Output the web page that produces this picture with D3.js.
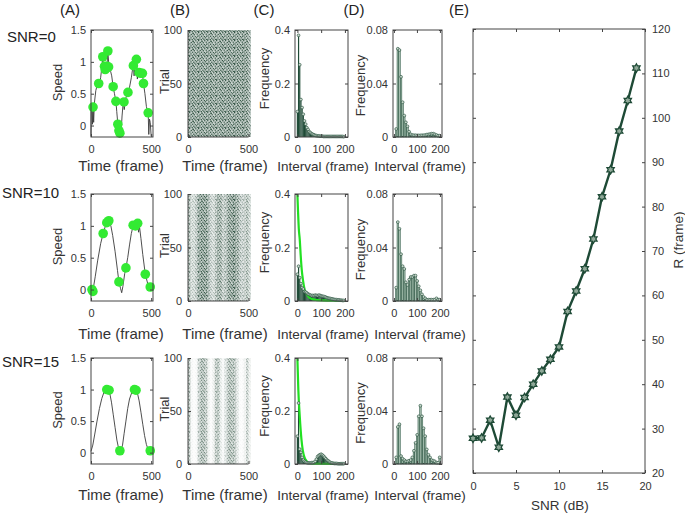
<!DOCTYPE html>
<html>
<head>
<meta charset="utf-8">
<script src="https://cdn.jsdelivr.net/npm/d3@7"></script>
<style>
  body { margin: 0; background: #fff; }
  svg { display: block; font-family: Arial, "Liberation Sans", sans-serif; }
</style>
</head>
<body>
<svg id="chart" width="685" height="513"></svg>
<script>
const DARK = '#1e4a36';
const RASTER_DOT = '#173d2b';
const LIGHT_BAR = '#a3bcad';
const PEAK_GREEN = '#33ea33';
const FIT_GREEN = '#22e022';
const AXIS = '#444';
const TEXT = '#333';

// ---- data ----
const rowLabels = ['SNR=0', 'SNR=10', 'SNR=15'];

// (A) speed traces [frame, speed] and detected peaks
const speed0 = [[0,-0.17],[2,0.3],[8,0.3],[12,0.02],[17,0.29],[22,0.05],[28,0.35],[40,0.55],[55,0.66],[70,0.64],[80,0.75],[92,0.95],[98,1.08],[104,0.9],[112,0.93],[118,0.82],[125,0.9],[130,0.85],[140,1.17],[148,0.95],[155,0.92],[163,0.85],[172,0.78],[184,0.61],[195,0.5],[207,0.38],[214,0.22],[223,0.02],[232,-0.05],[240,-0.12],[250,-0.1],[258,0.15],[268,0.37],[276,0.25],[288,0.42],[300,0.5],[307,0.52],[320,0.6],[335,0.75],[348,0.92],[352,0.94],[358,0.78],[366,0.95],[377,1.04],[385,0.73],[392,0.85],[402,0.83],[413,0.8],[420,0.82],[427,0.82],[436,0.66],[448,0.5],[460,0.3],[470,0.22],[475,0.2],[480,-0.14],[486,0.1],[492,0.05],[500,-0.17]];
const peaks0 = [[17,0.29],[64,0.66],[98,1.08],[112,0.93],[118,0.88],[128,0.9],[134,0.93],[140,1.17],[146,0.92],[184,0.61],[207,0.38],[223,0.02],[232,-0.08],[240,-0.12],[274,0.37],[307,0.52],[352,0.94],[377,1.04],[399,0.83],[414,0.82],[427,0.82],[436,0.66],[475,0.2]];
const speed10 = [[0,0],[10,-0.02],[20,0.03],[35,0.2],[55,0.45],[80,0.72],[101,0.88],[120,1.0],[135,1.05],[150,1.06],[165,1.0],[180,0.85],[200,0.6],[220,0.3],[232,0.12],[245,0.02],[255,-0.05],[265,0.05],[280,0.25],[290,0.34],[305,0.5],[320,0.7],[335,0.88],[350,1.0],[365,1.0],[378,1.02],[388,1.04],[395,0.9],[402,1.0],[415,0.8],[430,0.55],[451,0.24],[470,0.1],[492,0.04],[500,0.05]];
const peaks10 = [[8,0],[16,-0.03],[101,0.88],[131,1.05],[148,1.08],[232,0.12],[290,0.34],[350,1.01],[369,1.0],[388,1.04],[451,0.24],[492,0.04]];
const speed15 = [[0,0.02],[15,0.12],[30,0.28],[50,0.5],[70,0.7],[90,0.86],[110,0.97],[125,1.0],[140,1.0],[155,0.95],[170,0.8],[185,0.6],[200,0.4],[215,0.2],[228,0.08],[240,0.03],[250,0.04],[262,0.12],[275,0.3],[290,0.5],[305,0.7],[320,0.85],[340,0.96],[355,1.0],[370,1.0],[385,0.95],[400,0.82],[415,0.64],[430,0.45],[445,0.27],[460,0.13],[475,0.05],[492,0.03],[500,0.05]];
const peaks15 = [[131,1.0],[150,0.99],[240,0.03],[361,1.0],[374,0.99],[492,0.03]];

// (B) spike density of the raster per 20-frame bin (0..1)
const rasterBins = [0,20,40,60,80,100,120,140,160,180,200,220,240,260,280,300,320,340,360,380,400,420,440,460,480,500];
const raster0 = [0.8,0.85,0.85,0.8,0.85,0.85,0.85,0.8,0.85,0.85,0.8,0.8,0.8,0.85,0.85,0.8,0.85,0.85,0.8,0.85,0.85,0.8,0.85,0.85,0.8,0.6];
const raster10 = [0.55,0.3,0.3,0.45,0.75,0.85,0.85,0.8,0.6,0.35,0.3,0.45,0.7,0.65,0.4,0.45,0.7,0.8,0.85,0.8,0.65,0.45,0.35,0.4,0.5,0.3];
const raster15 = [0.45,0.05,0.02,0.05,0.35,0.55,0.55,0.4,0.1,0.03,0.1,0.4,0.5,0.15,0.05,0.2,0.45,0.55,0.5,0.4,0.15,0.03,0.03,0.1,0.35,0.1];

// (C) interval histograms, 5-frame bins
const histBinsC = [0,5,10,15,20,25,30,35,40,45,50,55,60,65,70,75,80,85,90,95,100,105,110,115,120,125,130,135,140,145,150,155,160,165,170,175,180,185,190,195];
const histC0 = [0.095,0.38,0.27,0.14,0.11,0.085,0.06,0.048,0.035,0.028,0.02,0.016,0.012,0.01,0.008,0.006,0.005,0.004,0.004,0.003,0.003,0.003,0.002,0.002,0.002,0.002,0.002,0.002,0.002,0.002,0.002,0.002,0.002,0.002,0.002,0.002,0.002,0.002,0.002,0.001];
const histC10 = [0.1,0.13,0.087,0.065,0.05,0.045,0.035,0.033,0.03,0.026,0.024,0.022,0.02,0.021,0.02,0.022,0.021,0.02,0.022,0.021,0.019,0.018,0.017,0.016,0.014,0.012,0.011,0.01,0.009,0.008,0.007,0.006,0.005,0.005,0.004,0.004,0.003,0.003,0.002,0.002];
const histC15 = [0.105,0.23,0.056,0.044,0.025,0.015,0.01,0.007,0.005,0.004,0.004,0.004,0.005,0.005,0.006,0.01,0.018,0.028,0.032,0.035,0.037,0.034,0.03,0.025,0.02,0.015,0.012,0.008,0.005,0.004,0.003,0.002,0.002,0.002,0.001,0.001,0.001,0.001,0.001,0.001];
// exponential fits drawn in light green
const fitC10 = [[0,0.4],[3,0.33],[6,0.27],[10,0.23],[14,0.17],[18,0.12],[24,0.075],[30,0.045],[40,0.025],[50,0.013],[70,0.005],[100,0.002],[150,0.001],[200,0.001]];
const fitC15 = [[0,0.4],[4,0.28],[10,0.18],[17,0.094],[23,0.05],[30,0.025],[40,0.01],[50,0.004],[70,0.001],[200,0]];

// (D) interval histograms, 7-frame bins
const histBinsD = [10,17,24,31,38,45,52,59,66,73,80,87,94,101,108,115,122,129,136,143,150,157,164,171,178,185,192,199];
const histD0 = [0.006,0.066,0.065,0.045,0.026,0.016,0.011,0.008,0.004,0.002,0.0015,0.0013,0.0013,0.0012,0.0012,0.0012,0.0013,0.0013,0.0015,0.0018,0.002,0.0022,0.0025,0.0025,0.002,0.0015,0.001,0.001];
const histD10 = [0.01,0.059,0.054,0.035,0.026,0.024,0.014,0.012,0.016,0.018,0.018,0.019,0.019,0.015,0.011,0.008,0.005,0.003,0.002,0.001,0.001,0.001,0.001,0.001,0.001,0.002,0.001,0.001];
const histD15 = [0.005,0.028,0.03,0.006,0.004,0.003,0.002,0.002,0.0025,0.003,0.005,0.01,0.016,0.022,0.036,0.044,0.036,0.027,0.021,0.011,0.007,0.005,0.003,0.0025,0.002,0.001,0.001,0.005];

// (E) R versus SNR
const snrDb = [0,1,2,3,4,5,6,7,8,9,10,11,12,13,14,15,16,17,18,19];
const rFrame = [27.8,27.9,31.9,25.8,37.1,33,37,40,43,45.6,48.4,56.4,61,66,72.7,82.2,88.3,97,103.9,111.2];

// ---- layout ----
const rowTop = [30, 194, 358];
const rowBottom = [137, 301, 464];
const xlabelY = [171, 339, 500];
const rowLabelY = [42, 198, 367];

const svg = d3.select('#chart');

// irregular dotted texture for the raster panels
const pat = svg.append('defs').append('pattern')
  .attr('id', 'spikes')
  .attr('width', 9).attr('height', 8)
  .attr('patternUnits', 'userSpaceOnUse');
[[0,0],[3.2,0.4],[6.1,0.1],[1.6,1.9],[4.7,2.2],[7.6,1.6],[0.3,3.4],[2.9,3.7],[5.8,4.0],[8.0,3.6],
 [1.3,5.3],[4.1,5.6],[6.9,5.2],[0.1,6.8],[2.6,7.0],[5.3,6.7],[7.8,6.9],[3.6,1.0]].forEach(([px, py]) => {
  pat.append('rect').attr('x', px).attr('y', py).attr('width', 1.3).attr('height', 1.2).attr('fill', RASTER_DOT);
});

function styleAxis(sel, size) {
  sel.select('.domain').remove();
  sel.selectAll('line').attr('stroke', AXIS);
  sel.selectAll('text').attr('fill', TEXT).style('font-size', size + 'px');
}

// MATLAB-like box with inward ticks
function axesBox(g, x, y, xTicks, yTicks, yFmt, opts = {}) {
  const [x0, x1] = x.range();
  const [yb, yt] = y.range();
  const box = opts.box !== false;
  const bottom = g.append('g').attr('transform', `translate(0,${yb})`)
    .call(d3.axisBottom(x).tickValues(xTicks).tickSizeInner(-3).tickSizeOuter(0).tickPadding(opts.xPad || 8));
  styleAxis(bottom, opts.font || 11);
  const yAxis = opts.right
    ? d3.axisRight(y).tickValues(yTicks).tickFormat(yFmt).tickSizeInner(-3).tickSizeOuter(0).tickPadding(7)
    : d3.axisLeft(y).tickValues(yTicks).tickFormat(yFmt).tickSizeInner(-3).tickSizeOuter(0).tickPadding(opts.yPad || 5);
  const left = g.append('g').attr('transform', `translate(${opts.right ? x1 : x0},0)`).call(yAxis);
  styleAxis(left, opts.font || 11);
  if (box) {
    const top = g.append('g').attr('transform', `translate(0,${yt})`)
      .call(d3.axisTop(x).tickValues(xTicks).tickSizeInner(-3).tickSizeOuter(0).tickFormat(''));
    styleAxis(top, 11);
    const other = opts.right ? d3.axisLeft(y) : d3.axisRight(y);
    const side = g.append('g').attr('transform', `translate(${opts.right ? x0 : x1},0)`)
      .call(other.tickValues(yTicks).tickSizeInner(-3).tickSizeOuter(0).tickFormat(''));
    styleAxis(side, 11);
    g.append('rect')
      .attr('x', x0).attr('y', yt).attr('width', x1 - x0).attr('height', yb - yt)
      .attr('fill', 'none').attr('stroke', AXIS).attr('stroke-width', 1);
  } else {
    g.append('path')
      .attr('d', `M${x0},${yt}V${yb}H${x1}`)
      .attr('fill', 'none').attr('stroke', AXIS).attr('stroke-width', 1);
  }
}

function yLabel(text, cx, cy, size) {
  svg.append('text')
    .attr('transform', `translate(${cx},${cy}) rotate(-90)`)
    .attr('text-anchor', 'middle').attr('dy', '0.35em')
    .attr('fill', TEXT).style('font-size', size + 'px')
    .text(text);
}

function xLabel(text, cx, by, size) {
  svg.append('text')
    .attr('x', cx).attr('y', by).attr('text-anchor', 'middle')
    .attr('fill', TEXT).style('font-size', size + 'px')
    .text(text);
}

// panel letters
[['(A)', 70], ['(B)', 180], ['(C)', 264], ['(D)', 354], ['(E)', 459]].forEach(([t, cx]) => {
  svg.append('text').attr('x', cx).attr('y', 15).attr('text-anchor', 'middle')
    .attr('fill', '#222').style('font-size', '15px').text(t);
});

const speeds = [speed0, speed10, speed15];
const peaks = [peaks0, peaks10, peaks15];
const rasters = [raster0, raster10, raster15];
const histsC = [histC0, histC10, histC15];
const fitsC = [null, fitC10, fitC15];
const histsD = [histD0, histD10, histD15];

rowLabels.forEach((label, r) => {
  const yb = rowBottom[r];
  const yt = rowTop[r];
  const midY = (yb + yt) / 2;

  svg.append('text').attr('x', r === 0 ? 7 : 2).attr('y', rowLabelY[r])
    .attr('fill', '#222').style('font-size', '15px').text(label);

  // (A) speed
  const xA = d3.scaleLinear().domain([0, 515]).range([91, 153]);
  const yA = d3.scaleLinear().domain([-0.18, 1.5]).range([yb, yt]);
  const gA = svg.append('g');
  gA.append('path')
    .datum(speeds[r])
    .attr('d', d3.line().x((d) => xA(d[0])).y((d) => yA(d[1])))
    .attr('fill', 'none').attr('stroke', '#3a3a3a').attr('stroke-width', 0.9);
  gA.selectAll('circle')
    .data(peaks[r])
    .join('circle')
    .attr('cx', (d) => xA(d[0]))
    .attr('cy', (d) => yA(d[1]))
    .attr('r', 4.8)
    .attr('fill', PEAK_GREEN);
  axesBox(gA, xA, yA, [0, 500], [0, 0.5, 1, 1.5], d3.format('~g'));
  yLabel('Speed', 57, midY - 1, 13);
  xLabel('Time (frame)', 121, xlabelY[r], 15);

  // (B) raster
  const xB = d3.scaleLinear().domain([0, 500]).range([188, 248.5]);
  const yB = d3.scaleLinear().domain([0, 100]).range([yb, yt]);
  const gB = svg.append('g');
  const binW = xB(20) - xB(0);
  gB.selectAll('rect.shade')
    .data(rasterBins)
    .join('rect')
    .attr('class', 'shade')
    .attr('x', (d) => xB(d)).attr('width', binW)
    .attr('y', yB(100)).attr('height', yB(0) - yB(100))
    .attr('fill', RASTER_DOT)
    .attr('fill-opacity', (d, i) => rasters[r][i] * 0.3);
  gB.selectAll('rect.dots')
    .data(rasterBins)
    .join('rect')
    .attr('class', 'dots')
    .attr('x', (d) => xB(d)).attr('width', binW)
    .attr('y', yB(100)).attr('height', yB(0) - yB(100))
    .attr('fill', 'url(#spikes)')
    .attr('opacity', (d, i) => rasters[r][i]);
  axesBox(gB, xB, yB, [0, 500], [0, 50, 100], d3.format('d'), { box: false, yPad: 6 });
  yLabel('Trial', 164, midY - 2, 13);
  xLabel('Time (frame)', 225, xlabelY[r], 15);

  // (C) interval histogram
  const xC = d3.scaleLinear().domain([-10, 213]).range([295, 348]);
  const yC = d3.scaleLinear().domain([0, 0.4]).range([yb, yt]);
  const gC = svg.append('g');
  const wC = xC(5) - xC(0);
  gC.selectAll('rect')
    .data(histsC[r])
    .join('rect')
    .attr('x', (d, i) => xC(histBinsC[i]) - wC / 2)
    .attr('width', wC)
    .attr('y', (d) => yC(d))
    .attr('height', (d) => yC(0) - yC(d))
    .attr('fill', DARK);
  if (fitsC[r]) {
    gC.append('path')
      .datum(fitsC[r])
      .attr('d', d3.line().curve(d3.curveMonotoneX).x((d) => xC(d[0])).y((d) => yC(d[1])))
      .attr('fill', 'none').attr('stroke', FIT_GREEN).attr('stroke-width', 2.2);
  }
  gC.selectAll('circle')
    .data(histsC[r])
    .join('circle')
    .attr('cx', (d, i) => xC(histBinsC[i]))
    .attr('cy', (d) => yC(d))
    .attr('r', 1.4)
    .attr('fill', '#c9d8cd').attr('stroke', DARK).attr('stroke-width', 0.6);
  axesBox(gC, xC, yC, [0, 100, 200], [0, 0.2, 0.4], d3.format('~g'));
  yLabel('Frequency', 264, midY - 5, 13);
  xLabel('Interval (frame)', 323, xlabelY[r], 13.5);

  // (D) interval histogram
  const xD = d3.scaleLinear().domain([-4, 209]).range([393, 442]);
  const yD = d3.scaleLinear().domain([0, 0.08]).range([yb, yt]);
  const gD = svg.append('g');
  const wD = xD(7) - xD(0);
  gD.selectAll('rect')
    .data(histsD[r])
    .join('rect')
    .attr('x', (d, i) => xD(histBinsD[i]) - wD / 2)
    .attr('width', wD)
    .attr('y', (d) => yD(d))
    .attr('height', (d) => yD(0) - yD(d))
    .attr('fill', LIGHT_BAR).attr('stroke', DARK).attr('stroke-width', 0.5);
  gD.selectAll('circle')
    .data(histsD[r])
    .join('circle')
    .attr('cx', (d, i) => xD(histBinsD[i]))
    .attr('cy', (d) => yD(d))
    .attr('r', 1.4)
    .attr('fill', '#c9d8cd').attr('stroke', DARK).attr('stroke-width', 0.6);
  axesBox(gD, xD, yD, [0, 100, 200], [0, 0.04, 0.08], d3.format('~g'));
  yLabel('Frequency', 360, midY + 2, 13);
  xLabel('Interval (frame)', 420, xlabelY[r], 13.5);
});

// (E) R vs SNR
const xE = d3.scaleLinear().domain([0, 20]).range([473, 645]);
const yE = d3.scaleLinear().domain([20, 120]).range([473, 29]);
const gE = svg.append('g');
axesBox(gE, xE, yE, [0, 5, 10, 15, 20], d3.range(20, 121, 10), d3.format('d'), { right: true, font: 11, xPad: 9 });
gE.append('path')
  .datum(snrDb)
  .attr('d', d3.line().x((d) => xE(d)).y((d, i) => yE(rFrame[i])))
  .attr('fill', 'none').attr('stroke', DARK).attr('stroke-width', 2.4);

function hexagram(R) {
  const pts = [];
  for (let k = 0; k < 12; k++) {
    const a = -Math.PI / 2 + (k * Math.PI) / 6;
    const rr = k % 2 === 0 ? R : R / Math.sqrt(3);
    pts.push([rr * Math.cos(a), rr * Math.sin(a)]);
  }
  return 'M' + pts.map((p) => p.join(',')).join('L') + 'Z';
}
gE.selectAll('path.mk')
  .data(snrDb)
  .join('path')
  .attr('class', 'mk')
  .attr('transform', (d, i) => `translate(${xE(d)},${yE(rFrame[i])})`)
  .attr('d', hexagram(4.2))
  .attr('fill', '#8fa898').attr('stroke', DARK).attr('stroke-width', 1.3);

xLabel('SNR (dB)', 560, 510, 13.5);
yLabel('R (frame)', 678, 240, 13.5);
</script>
</body>
</html>
